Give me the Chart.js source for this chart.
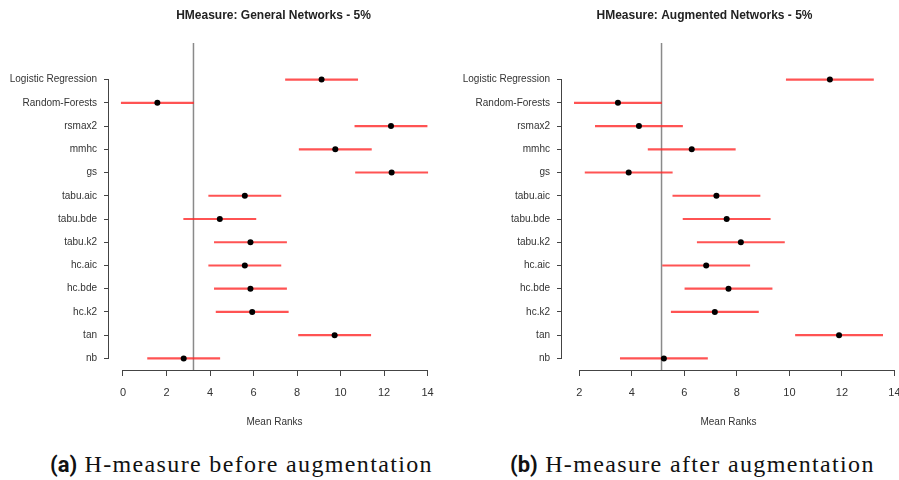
<!DOCTYPE html>
<html>
<head>
<meta charset="utf-8">
<script src="https://cdn.jsdelivr.net/npm/chart.js@4.4.0/dist/chart.umd.min.js"></script>
<style>
  body { margin: 0; background: #fff; width: 899px; height: 480px; overflow: hidden; position: relative; }
  .panel { position: absolute; top: 0; height: 430px; }
  #left { left: 0; width: 450px; }
  #right { left: 450px; width: 449px; }
  .caption { position: absolute; top: 452px; font-family: "Liberation Serif", serif; font-size: 24px; letter-spacing: 1.35px; line-height: 1; color: #111; white-space: nowrap; }
  .caption b { font-family: Roboto, "Liberation Sans", sans-serif; font-weight: bold; font-size: 22px; letter-spacing: 0; }
</style>
</head>
<body>
<div class="panel" id="left"><canvas id="chartBefore"></canvas></div>
<div class="panel" id="right"><canvas id="chartAfter"></canvas></div>
<div class="caption" style="left:50px"><b>(a)</b> H-measure before augmentation</div>
<div class="caption" style="left:510px"><b>(b)</b> H-measure after augmentation</div>
<script>
const methods = ['Logistic Regression', 'Random-Forests', 'rsmax2', 'mmhc', 'gs', 'tabu.aic',
  'tabu.bde', 'tabu.k2', 'hc.aic', 'hc.bde', 'hc.k2', 'tan', 'nb'];
const ranksBefore = [9.13, 1.58, 12.32, 9.76, 12.35, 5.60, 4.45, 5.86, 5.60, 5.86, 5.94, 9.73, 2.79];
const ranksAfter = [11.54, 3.47, 4.27, 6.28, 3.88, 7.22, 7.61, 8.15, 6.83, 7.68, 7.16, 11.89, 5.22];
// half width of each interval (critical difference / 2)
const halfCD = 1.66;
const ticksBefore = [0, 2, 4, 6, 8, 10, 12, 14];
const ticksAfter = [2, 4, 6, 8, 10, 12, 14];

const axisColor = '#444';
const textColor = '#333';

// axis lines only span first..last tick, like base R graphics
const rAxes = {
  id: 'rAxes',
  afterDraw(chart) {
    const ctx = chart.ctx, x = chart.scales.x, y = chart.scales.y;
    const a = chart.chartArea;
    const tv = x.ticks.map(t => t.value);
    ctx.save();
    ctx.strokeStyle = axisColor;
    ctx.lineWidth = 1;
    ctx.beginPath();
    ctx.moveTo(x.getPixelForValue(tv[0]), a.bottom + 0.5);
    ctx.lineTo(x.getPixelForValue(tv[tv.length - 1]), a.bottom + 0.5);
    ctx.moveTo(a.left - 0.5, y.getPixelForValue(0));
    ctx.lineTo(a.left - 0.5, y.getPixelForValue(methods.length - 1));
    ctx.stroke();
    ctx.restore();
  }
};

// vertical line at best rank + half CD
const cutoffLine = {
  id: 'cutoffLine',
  beforeDatasetsDraw(chart, args, opts) {
    const ctx = chart.ctx, a = chart.chartArea;
    const px = chart.scales.x.getPixelForValue(opts.value);
    ctx.save();
    ctx.strokeStyle = '#8a8a8a';
    ctx.lineWidth = 1.5;
    ctx.beginPath();
    ctx.moveTo(px, a.top - 25);
    ctx.lineTo(px, a.bottom);
    ctx.stroke();
    ctx.restore();
  }
};

// bold heading above the plot, centred on the plot area with an optional nudge
const heading = {
  id: 'heading',
  afterDraw(chart, args, opts) {
    const ctx = chart.ctx, a = chart.chartArea;
    ctx.save();
    ctx.font = 'bold 12px "Liberation Sans"';
    ctx.fillStyle = '#222';
    ctx.textAlign = 'center';
    ctx.textBaseline = 'middle';
    ctx.fillText(opts.text, (a.left + a.right) / 2 + opts.shift, 16);
    ctx.restore();
  }
};

function makeChart(id, title, titleShift, ranks, tickValues, yWidth, padRight) {
  const lows = ranks.map(r => r - halfCD);
  const highs = ranks.map(r => r + halfCD);
  const lo = Math.min(...lows), hi = Math.max(...highs);
  const ext = (hi - lo) * 0.04;
  return new Chart(document.getElementById(id), {
    type: 'bar',
    data: {
      labels: methods,
      datasets: [
        {
          type: 'line',
          indexAxis: 'y',
          data: ranks,
          showLine: false,
          pointRadius: 3,
          pointBackgroundColor: '#000',
          pointBorderWidth: 0,
          order: 0
        },
        {
          type: 'bar',
          data: ranks.map((r, i) => [lows[i], highs[i]]),
          backgroundColor: 'rgba(255,40,40,0.8)',
          barThickness: 1.5,
          borderWidth: 0,
          order: 1
        }
      ]
    },
    options: {
      indexAxis: 'y',
      responsive: true,
      maintainAspectRatio: false,
      animation: false,
      layout: { padding: { left: 0, right: padRight, top: 68, bottom: 2 } },
      plugins: {
        legend: { display: false },
        tooltip: { enabled: false },
        title: { display: false },
        heading: { text: title, shift: titleShift },
        cutoffLine: { value: Math.min(...ranks) + halfCD }
      },
      scales: {
        x: {
          type: 'linear',
          min: lo - ext,
          max: hi + ext,
          afterBuildTicks: s => { s.ticks = tickValues.map(v => ({ value: v })); },
          // let the last tick label run past the edge instead of shrinking the plot
          afterFit: s => { s.height = 58; s.paddingLeft = 0; s.paddingRight = 0; },
          border: { display: false },
          grid: { drawOnChartArea: false, drawTicks: true, tickLength: 6, color: axisColor },
          ticks: { color: textColor, font: { family: 'Liberation Sans', size: 11 }, padding: 10, maxRotation: 0 },
          title: { display: true, text: 'Mean Ranks', color: textColor, font: { family: 'Liberation Sans', size: 10 }, padding: 0 }
        },
        y: {
          type: 'category',
          offset: true,
          afterFit: s => { s.width = yWidth; s.paddingTop = 0; s.paddingBottom = 0; },
          border: { display: false },
          grid: { offset: false, drawOnChartArea: false, drawTicks: true, tickLength: 5, color: axisColor },
          ticks: { color: textColor, font: { family: 'Liberation Sans', size: 10 }, padding: 7, autoSkip: false }
        }
      }
    },
    plugins: [rAxes, cutoffLine, heading]
  });
}

makeChart('chartBefore', 'HMeasure: General Networks - 5%', -1, ranksBefore, ticksBefore, 109, 10);
makeChart('chartAfter', 'HMeasure: Augmented Networks - 5%', -24, ranksAfter, ticksAfter, 112, 4);
</script>
</body>
</html>
